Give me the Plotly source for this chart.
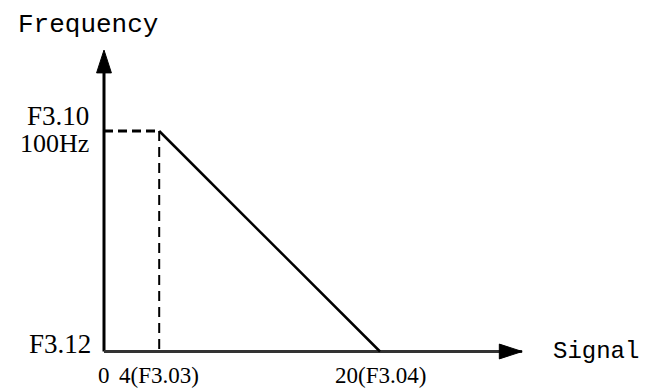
import plotly.graph_objects as go

# Signal / frequency characteristic (negative slope)
signal_ticks = [0, 4, 20]
signal_tick_labels = ["0", "4(F3.03)", "20(F3.04)"]
freq_upper = 100          # F3.10 = 100Hz
freq_lower = 0            # F3.12
knee_signal = 4           # F3.03
end_signal = 20           # F3.04

# axis extents (arrow tips)
signal_axis_end = 30.3
freq_axis_end = 136.7

W, H = 646, 388
INK = "#000000"

fig = go.Figure()

# y axis (Frequency) with arrow
fig.add_trace(go.Scatter(
    x=[0, 0], y=[freq_lower, freq_axis_end], mode="lines+markers",
    line=dict(color=INK, width=3),
    marker=dict(symbol="arrow", size=[0, 24], angle=0, color=INK, opacity=1,
                line=dict(width=1, color=INK)),
    hoverinfo="skip", showlegend=False, cliponaxis=False))

# x axis (Signal) with arrow
fig.add_trace(go.Scatter(
    x=[0, signal_axis_end], y=[freq_lower, freq_lower], mode="lines+markers",
    line=dict(color="#333333", width=3),
    marker=dict(symbol="arrow", size=[0, 24], angle=90, color=INK, opacity=1,
                line=dict(width=1, color=INK)),
    hoverinfo="skip", showlegend=False, cliponaxis=False))

# dashed guide: upper frequency level up to the knee
fig.add_trace(go.Scatter(
    x=[0, knee_signal], y=[freq_upper, freq_upper], mode="lines",
    line=dict(color=INK, width=3, dash="9px,5px"),
    hoverinfo="skip", showlegend=False))

# dashed guide: knee down to the signal axis
fig.add_trace(go.Scatter(
    x=[knee_signal, knee_signal], y=[freq_upper, freq_lower], mode="lines",
    line=dict(color=INK, width=2, dash="10px,6px"),
    hoverinfo="skip", showlegend=False))

# characteristic line
fig.add_trace(go.Scatter(
    x=[knee_signal, end_signal], y=[freq_upper, freq_lower], mode="lines",
    line=dict(color=INK, width=2.5),
    hoverinfo="skip", showlegend=False))

serif = "Liberation Serif, Times New Roman, serif"
mono = "Liberation Mono, Courier New, monospace"

def px(x):
    return x / W

def py(y):
    return 1 - y / H

annotations = [
    dict(text="Frequency", x=px(16), y=py(25), xanchor="left", yanchor="middle",
         font=dict(family=mono, size=26, color=INK)),
    dict(text="F3.10", x=px(91), y=py(116), xanchor="right", yanchor="middle",
         font=dict(family=serif, size=27, color=INK)),
    dict(text="100Hz", x=px(91), y=py(143), xanchor="right", yanchor="middle",
         font=dict(family=serif, size=26, color=INK)),
    dict(text="F3.12", x=px(93), y=py(344), xanchor="right", yanchor="middle",
         font=dict(family=serif, size=27, color=INK)),
    dict(text="Signal", x=px(551), y=py(351), xanchor="left", yanchor="middle",
         font=dict(family=mono, size=24, color=INK)),
]
for val, lab in zip(signal_ticks, signal_tick_labels):
    annotations.append(dict(text=lab, x=val, xref="x", y=py(375), yref="paper",
                            xanchor="center", yanchor="middle",
                            font=dict(family=serif, size=23, color=INK)))
for a in annotations:
    a.setdefault("xref", "paper")
    a.setdefault("yref", "paper")
    a["showarrow"] = False

sx = 13.8     # px per signal unit
sy = 2.205    # px per Hz
x0 = -104 / sx
y0 = -(H - 351.5) / sy

fig.update_layout(
    width=W, height=H,
    margin=dict(l=0, r=0, t=0, b=0),
    paper_bgcolor="white", plot_bgcolor="white",
    xaxis=dict(range=[x0, x0 + W / sx], visible=False, fixedrange=True),
    yaxis=dict(range=[y0, y0 + H / sy], visible=False, fixedrange=True),
    annotations=annotations,
    showlegend=False,
)

fig.write_html("out.html")
